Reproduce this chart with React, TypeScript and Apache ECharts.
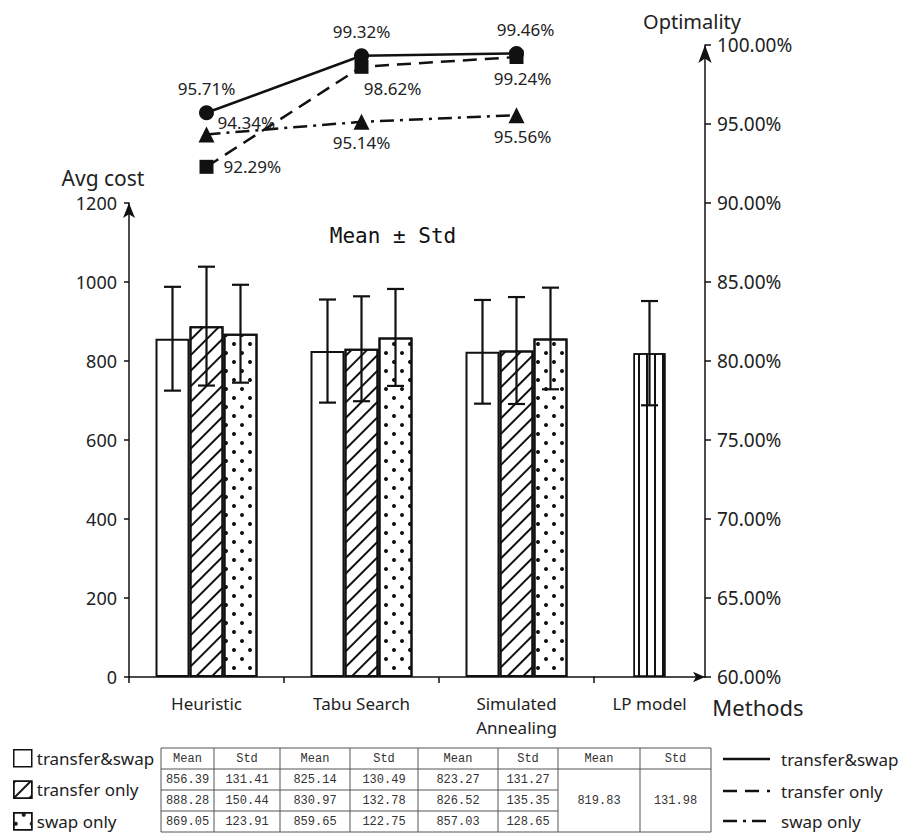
import React, { useEffect, useRef } from 'react';
import * as echarts from 'echarts';

// ---------------- data ----------------
const methods = ['Heuristic', 'Tabu Search', 'Simulated\nAnnealing'];
const lpMethod = ['LP model'];
const seriesNames = ['transfer&swap', 'transfer only', 'swap only'];

const meanTransferSwap = [856.39, 825.14, 823.27];
const meanTransferOnly = [888.28, 830.97, 826.52];
const meanSwapOnly = [869.05, 859.65, 857.03];
const stdTransferSwap = [131.41, 130.49, 131.27];
const stdTransferOnly = [150.44, 132.78, 135.35];
const stdSwapOnly = [123.91, 122.75, 128.65];
const lpMean = [819.83];
const lpStd = [131.98];

const optTransferSwap = [95.71, 99.32, 99.46];
const optTransferOnly = [92.29, 98.62, 99.24];
const optSwapOnly = [94.34, 95.14, 95.56];

const costMin = 0;
const costMax = 1200;
const costStep = 200;
const optMin = 60;
const optMax = 100;
const optStep = 5;

// ---------------- styles ----------------
const FONT = '"Noto Sans", "Open Sans", sans-serif';
const MONO = '"Liberation Mono", "DejaVu Sans Mono", monospace';
const INK = '#111';
const TXT = '#222';
const BAR_W = 34;
const LP_BAR_W = 32;

const means = [meanTransferSwap, meanTransferOnly, meanSwapOnly];
const stds = [stdTransferSwap, stdTransferOnly, stdSwapOnly];
const opts = [optTransferSwap, optTransferOnly, optSwapOnly];

const decals: any[] = [
  null,
  { symbol: 'rect', symbolSize: 1, dashArrayX: [1, 0], dashArrayY: [1.3, 9], rotation: -Math.PI / 4, color: INK, backgroundColor: '#fff' },
  { symbol: 'circle', symbolSize: 1, dashArrayX: [[3.6, 11.4], [0, 7.5, 3.6, 3.9]], dashArrayY: [3.6, 4.2], color: INK, backgroundColor: '#fff' },
];
const lpDecal = { symbol: 'rect', symbolSize: 1, dashArrayX: [1, 0], dashArrayY: [1.2, 5.4], rotation: Math.PI / 2, color: INK, backgroundColor: '#fff' };

const lineTypes: any[] = ['solid', [14, 8], [14, 6, 3, 6]];
const symbols = ['circle', 'rect', 'triangle'];
const symbolSizes = [15, 14, 16];
const labelPlacement: any[][] = [
  [{ position: 'top', distance: 8 }, { position: 'top', distance: 8 }, { position: 'top', distance: 8, offset: [9, 0] }],
  [{ position: 'right', distance: 10 }, { position: 'bottom', distance: 6, offset: [31, 0] }, { position: 'bottom', distance: 6, offset: [6, 0] }],
  [{ position: 'right', distance: 3, offset: [0, -12] }, { position: 'bottom', distance: 4 }, { position: 'bottom', distance: 5, offset: [6, 0] }],
];

const tableColX = [161, 214, 280, 350, 418, 498, 558, 640, 711];
const tableRowY = [748, 769, 790, 811, 832];

function errorRenderer(slot: number, nSlots: number) {
  return (_params: any, api: any) => {
    const ci = api.value(0);
    const m = api.value(1);
    const s = api.value(2);
    const top = api.coord([ci, m + s]);
    const bot = api.coord([ci, m - s]);
    const x = top[0] + (slot - (nSlots - 1) / 2) * BAR_W;
    const cap = 8.5;
    const st = { stroke: INK, lineWidth: 2.2 };
    return {
      type: 'group',
      children: [
        { type: 'line', shape: { x1: x, y1: top[1], x2: x, y2: bot[1] }, style: st },
        { type: 'line', shape: { x1: x - cap, y1: top[1], x2: x + cap, y2: top[1] }, style: st },
        { type: 'line', shape: { x1: x - cap, y1: bot[1], x2: x + cap, y2: bot[1] }, style: st },
      ],
    };
  };
}

function buildOption() {
  const series: any[] = [];
  seriesNames.forEach((name, i) => {
    const itemStyle: any = { color: '#fff', borderColor: INK, borderWidth: 2 };
    if (decals[i]) itemStyle.decal = decals[i];
    series.push({
      type: 'bar', name, xAxisIndex: 0, yAxisIndex: 0, data: means[i],
      barWidth: BAR_W, barGap: '0%', itemStyle, z: 2,
    });
  });
  seriesNames.forEach((name, i) => {
    series.push({
      type: 'custom', name: name + ' std', xAxisIndex: 0, yAxisIndex: 0,
      data: means[i].map((m, ci) => [ci, m, stds[i][ci]]),
      encode: { x: 0, y: 1 }, renderItem: errorRenderer(i, 3), z: 5, silent: true,
    });
  });
  series.push({
    type: 'bar', name: 'LP model', xAxisIndex: 1, yAxisIndex: 1, data: lpMean,
    barWidth: LP_BAR_W, itemStyle: { color: '#fff', borderColor: INK, borderWidth: 1.5, decal: lpDecal }, z: 2,
  });
  series.push({
    type: 'custom', name: 'LP std', xAxisIndex: 1, yAxisIndex: 1,
    data: lpMean.map((m, ci) => [ci, m, lpStd[ci]]),
    encode: { x: 0, y: 1 }, renderItem: errorRenderer(0, 1), z: 5, silent: true,
  });
  seriesNames.forEach((name, i) => {
    series.push({
      type: 'line', name, xAxisIndex: 2, yAxisIndex: 2,
      data: opts[i].map((v, j) => ({ value: v, label: labelPlacement[i][j] })),
      symbol: symbols[i], symbolSize: symbolSizes[i],
      itemStyle: { color: INK },
      lineStyle: { color: INK, width: 2.5, type: lineTypes[i] },
      label: {
        show: true, fontSize: 17, color: TXT, fontFamily: FONT,
        formatter: (p: any) => Number(p.value).toFixed(2) + '%',
      },
      z: 6,
    });
  });

  const graphic: any[] = [];
  const txt = (text: string, x: number, y: number, size: number, extra: any = {}) => ({
    type: 'text', x, y, silent: true,
    style: { text, fontSize: size, fontFamily: FONT, fill: TXT, align: 'center', verticalAlign: 'middle', textAlign: 'center', textVerticalAlign: 'middle', ...extra },
  });
  graphic.push(txt('Avg cost', 103, 178, 21));
  graphic.push(txt('Optimality', 692, 21, 20));
  graphic.push(txt('Methods', 758, 707, 22));
  graphic.push(txt('Mean \u00b1 Std', 393, 236, 21, { fontFamily: '"DejaVu Sans Mono", monospace', fill: INK }));

  // table
  const gl = { stroke: '#555', lineWidth: 1 };
  const x0 = tableColX[0];
  const xEnd = tableColX[tableColX.length - 1];
  [0, 1, 4].forEach((r) => graphic.push({ type: 'line', silent: true, shape: { x1: x0, y1: tableRowY[r], x2: xEnd, y2: tableRowY[r] }, style: gl }));
  [2, 3].forEach((r) => graphic.push({ type: 'line', silent: true, shape: { x1: x0, y1: tableRowY[r], x2: tableColX[6], y2: tableRowY[r] }, style: gl }));
  tableColX.forEach((cx) => graphic.push({ type: 'line', silent: true, shape: { x1: cx, y1: tableRowY[0], x2: cx, y2: tableRowY[4] }, style: gl }));
  const cellText = (text: string, c: number, yc: number) => ({
    type: 'text', silent: true, x: (tableColX[c] + tableColX[c + 1]) / 2, y: yc,
    style: { text, fontSize: 12, fontFamily: MONO, fill: '#333', align: 'center', verticalAlign: 'middle', textAlign: 'center', textVerticalAlign: 'middle' },
  });
  for (let c = 0; c < 8; c++) {
    graphic.push(cellText(c % 2 === 0 ? 'Mean' : 'Std', c, (tableRowY[0] + tableRowY[1]) / 2));
  }
  for (let s = 0; s < 3; s++) {
    for (let m = 0; m < 3; m++) {
      const yc = (tableRowY[s + 1] + tableRowY[s + 2]) / 2;
      graphic.push(cellText(means[s][m].toFixed(2), m * 2, yc));
      graphic.push(cellText(stds[s][m].toFixed(2), m * 2 + 1, yc));
    }
  }
  graphic.push(cellText(lpMean[0].toFixed(2), 6, (tableRowY[1] + tableRowY[4]) / 2));
  graphic.push(cellText(lpStd[0].toFixed(2), 7, (tableRowY[1] + tableRowY[4]) / 2));

  // right legend (line styles)
  const legY = [759, 791, 821];
  seriesNames.forEach((name, i) => {
    const dash = i === 0 ? null : lineTypes[i];
    graphic.push({ type: 'line', silent: true, shape: { x1: 723, y1: legY[i], x2: 770, y2: legY[i] }, style: { stroke: INK, lineWidth: 2.5, lineDash: dash } });
    graphic.push({ type: 'text', silent: true, x: 781, y: legY[i], style: { text: name, fontSize: 17, fontFamily: FONT, fill: TXT, align: 'left', verticalAlign: 'middle', textAlign: 'left', textVerticalAlign: 'middle' } });
  });

  const axisLabelBase = { fontSize: 17, color: TXT, fontFamily: FONT };

  return {
    animation: false,
    backgroundColor: '#fff',
    grid: [
      { left: 129, top: 203, width: 465, height: 474 },
      { left: 594, top: 203, width: 111, height: 474 },
      { left: 129, top: 45, width: 465, height: 632 },
    ],
    legend: {
      data: seriesNames, orient: 'vertical', left: 13, top: 749, itemWidth: 18, itemHeight: 17, itemGap: 13,
      icon: 'rect', selectedMode: false, padding: 0,
      textStyle: { fontSize: 17, color: TXT, fontFamily: FONT },
      itemStyle: { borderColor: INK, borderWidth: 1.5 },
    },
    xAxis: [
      {
        type: 'category', gridIndex: 0, data: methods,
        axisLine: { lineStyle: { color: INK, width: 1.5 } },
        axisTick: { show: true, length: 6, lineStyle: { color: INK, width: 1.5 } },
        axisLabel: { ...axisLabelBase, interval: 0, margin: 14, lineHeight: 24 },
      },
      {
        type: 'category', gridIndex: 1, data: lpMethod,
        axisLine: { lineStyle: { color: INK, width: 1.5 }, symbol: ['none', 'arrow'], symbolSize: [8, 12] },
        axisTick: { show: false },
        axisLabel: { ...axisLabelBase, interval: 0, margin: 14, lineHeight: 24 },
      },
      { type: 'category', gridIndex: 2, data: methods, show: false },
    ],
    yAxis: [
      {
        type: 'value', gridIndex: 0, min: costMin, max: costMax, interval: costStep,
        axisLine: { show: true, lineStyle: { color: INK, width: 1.5 }, symbol: ['none', 'arrow'], symbolSize: [9, 15] },
        axisTick: { show: true, length: 5, lineStyle: { color: INK, width: 1.5 } },
        axisLabel: { ...axisLabelBase, fontSize: 18, margin: 12, formatter: (v: number) => String(v) },
        splitLine: { show: false },
      },
      { type: 'value', gridIndex: 1, min: costMin, max: costMax, interval: costStep, show: false, splitLine: { show: false } },
      {
        type: 'value', gridIndex: 2, position: 'right', offset: 111, min: optMin, max: optMax, interval: optStep,
        axisLine: { show: true, lineStyle: { color: INK, width: 1.5 }, symbol: ['none', 'arrow'], symbolSize: [10, 18] },
        axisTick: { show: true, length: 6, lineStyle: { color: INK, width: 1.5 } },
        axisLabel: { ...axisLabelBase, fontSize: 19, margin: 12, formatter: (v: number) => v.toFixed(2) + '%' },
        splitLine: { show: false },
      },
    ],
    series,
    graphic,
  };
}

export default function App() {
  const ref = useRef<HTMLDivElement>(null);
  useEffect(() => {
    document.body.style.margin = '0';
    if (!ref.current) return;
    const chart = echarts.init(ref.current, undefined, { renderer: 'svg' });
    chart.setOption(buildOption() as any);
    return () => chart.dispose();
  }, []);
  return <div ref={ref} style={{ width: 901, height: 834 }} />;
}
